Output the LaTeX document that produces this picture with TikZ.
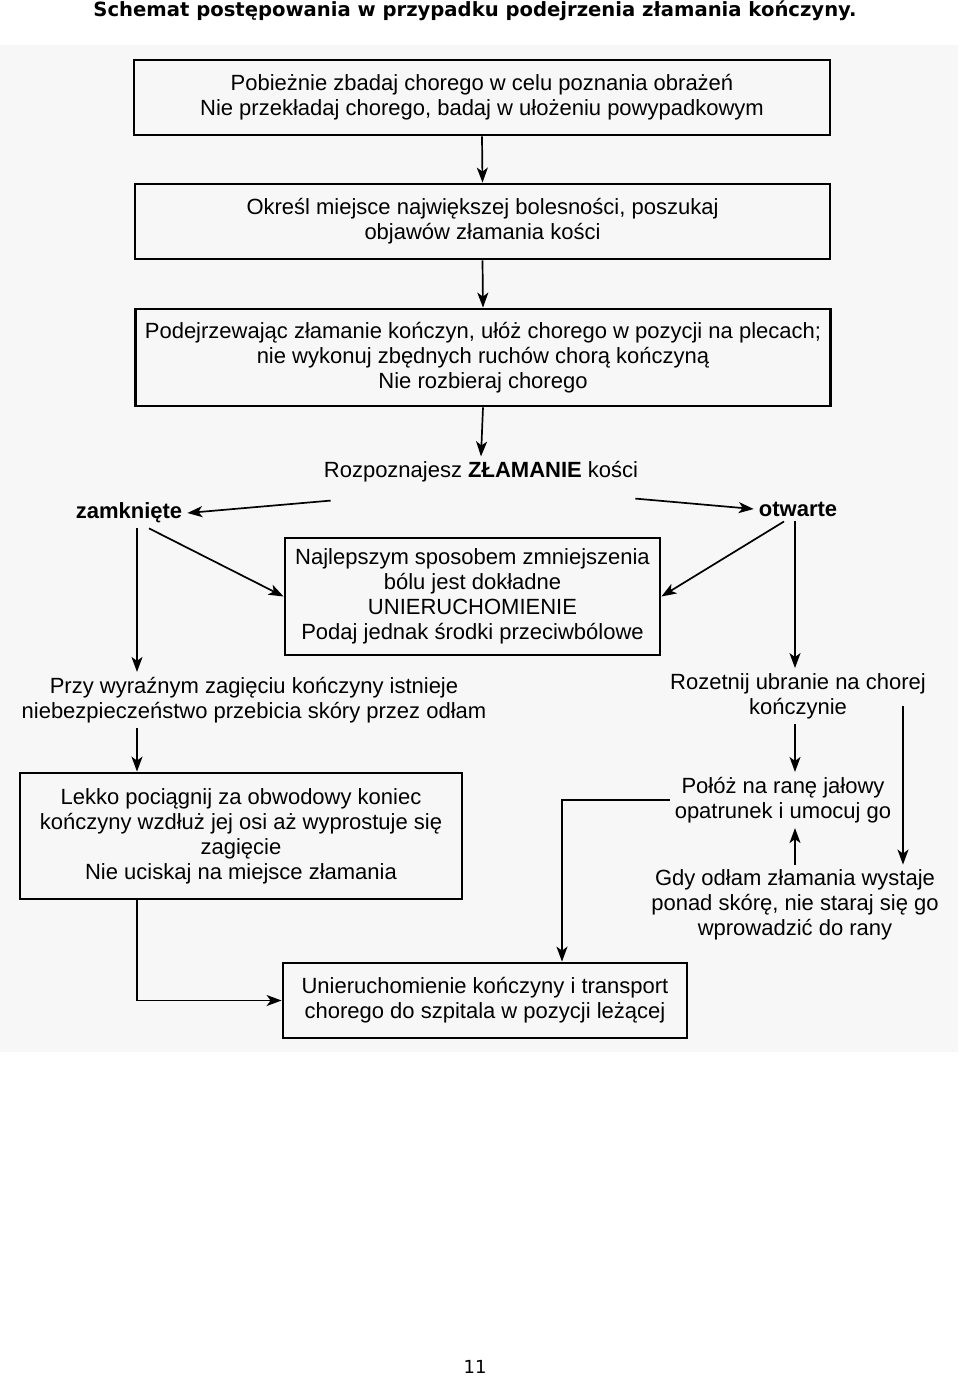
\documentclass[tikz,border=0pt]{standalone}
\usepackage{fontspec}
\setmainfont{Liberation Sans}
\newfontfamily\titlefont{DejaVu Sans}
\usetikzlibrary{arrows.meta}

\begin{document}
\begin{tikzpicture}[x=1pt,y=-1pt,
    box/.style={draw,line width=2.8pt,inner sep=0pt,align=center,
      font=\fontsize{22}{25}\selectfont},
    txt/.style={inner sep=5pt,align=center,font=\fontsize{22}{25}\selectfont},
    lbl/.style={txt,font=\fontsize{22}{25}\selectfont\bfseries},
    arr/.style={line width=1.7pt,-{Stealth[length=15pt,width=11pt,inset=4pt]}}]
    \useasboundingbox (0,0) rectangle (960,1377);
    \fill[black!3] (0,45) rectangle (958,1052);

    \node[font=\titlefont\fontsize{19.6}{22}\selectfont\bfseries] (title) at (475,11)
        {Schemat postępowania w przypadku podejrzenia złamania kończyny.};

    \coordinate (lcol) at (137,0);
    \coordinate (rcol) at (795,0);
    \coordinate (mcol) at (562,0);
    \coordinate (fcol) at (903,706);

    \node[box,minimum width=696pt,minimum height=75pt] (b1) at (482,97.5)
        {Pobieżnie zbadaj chorego w celu poznania obrażeń\\
         Nie przekładaj chorego, badaj w ułożeniu powypadkowym};
    \node[box,minimum width=695pt,minimum height=75pt] (b2) at (482.5,221.5)
        {Określ miejsce największej bolesności, poszukaj\\
         objawów złamania kości};
    \node[box,minimum width=695pt,minimum height=97pt] (b3) at (483,357.5)
        {Podejrzewając złamanie kończyn, ułóż chorego w pozycji na plecach;\\
         nie wykonuj zbędnych ruchów chorą kończyną\\
         Nie rozbieraj chorego};
    \node[txt] (rozp) at (481,472) {Rozpoznajesz \textbf{ZŁAMANIE} kości};
    \node[lbl] (zam) at (129,513) {zamknięte};
    \node[lbl] (otw) at (798,509) {otwarte};
    \node[box,minimum width=375pt,minimum height=117pt] (b4) at (472.5,596.5)
        {Najlepszym sposobem zmniejszenia\\
         bólu jest dokładne\\
         UNIERUCHOMIENIE\\
         Podaj jednak środki przeciwbólowe};
    \node[txt] (przy) at (254,700)
        {Przy wyraźnym zagięciu kończyny istnieje\\
         niebezpieczeństwo przebicia skóry przez odłam};
    \node[txt] (roz) at (798,696) {Rozetnij ubranie na chorej\\ kończynie};
    \node[box,minimum width=442pt,minimum height=126pt] (b5) at (241,836)
        {Lekko pociągnij za obwodowy koniec\\
         kończyny wzdłuż jej osi aż wyprostuje się\\
         zagięcie\\
         Nie uciskaj na miejsce złamania};
    \node[txt] (poloz) at (783,800) {Połóż na ranę jałowy\\ opatrunek i umocuj go};
    \node[txt] (gdy) at (795,905)
        {Gdy odłam złamania wystaje\\
         ponad skórę, nie staraj się go\\
         wprowadzić do rany};
    \node[box,minimum width=404pt,minimum height=75pt] (b6) at (485,1000.5)
        {Unieruchomienie kończyny i transport\\
         chorego do szpitala w pozycji leżącej};

    \draw[arr] (b1.south) -- (b2.north);
    \draw[arr] (b2.south) -- (b3.north);
    \draw[arr] (b3.south) -- (rozp.north);
    \draw[arr] ([shift={(12,13)}]rozp.south west) -- (zam.east);
    \draw[arr] ([shift={(-8,11)}]rozp.south east) -- (otw.west);
    \draw[arr] ([xshift=20pt]zam.south) -- (b4.west);
    \draw[arr] ([xshift=-14pt]otw.south) -- (b4.east);
    \draw[arr] (lcol |- zam.south) -- (lcol |- przy.north);
    \draw[arr] (rcol |- otw.south) -- (rcol |- roz.north);
    \draw[arr] (lcol |- przy.south) -- (lcol |- b5.north);
    \draw[arr] (rcol |- roz.south) -- (rcol |- poloz.north);
    \draw[arr] (rcol |- gdy.north) -- (rcol |- poloz.south);
    \draw[arr] (fcol) -- (fcol |- gdy.north);
    \draw[arr] (poloz.west) -| (mcol |- b6.north);
    \draw[arr] (lcol |- b5.south) |- (b6.west);

    \node[font=\titlefont\fontsize{18}{20}\selectfont] (page) at (475,1367) {11};
\end{tikzpicture}
\end{document}
